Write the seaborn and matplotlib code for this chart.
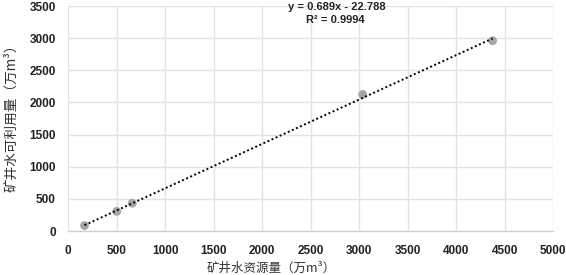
import matplotlib
matplotlib.use("Agg")
import matplotlib.pyplot as plt
import seaborn as sns
import pandas as pd

# Data
resource = [168, 500, 660, 3035, 4375]        # 矿井水资源量 (万m³)
usable = [85, 305, 432, 2125, 2960]            # 矿井水可利用量 (万m³)
x_ticks = [0, 500, 1000, 1500, 2000, 2500, 3000, 3500, 4000, 4500, 5000]
y_ticks = [0, 500, 1000, 1500, 2000, 2500, 3000, 3500]
eq_text = "y = 0.689x - 22.788"
r2_text = "R² = 0.9994"
x_label = "矿井水资源量（万m³）"
y_label = "矿井水可利用量（万m³）"

df = pd.DataFrame({"x": resource, "y": usable})

sns.set_theme(style="white")
plt.rcParams["font.family"] = ["Liberation Sans", "Noto Sans CJK SC", "DejaVu Sans"]

fig = plt.figure(figsize=(5.66, 2.75), dpi=100)
ax = fig.add_axes([0.1205, 0.16, 0.857, 0.818])

sns.regplot(data=df, x="x", y="y", ax=ax, ci=None, truncate=True,
            scatter_kws=dict(s=40, color="#a5a5a5", edgecolor="none", alpha=1, zorder=3),
            line_kws=dict(color="black", linestyle=(0, (1, 1.3)), linewidth=1.4, zorder=4))

ax.set_xlim(0, 5000)
ax.set_ylim(0, 3500)
ax.set_xticks(x_ticks)
ax.set_yticks(y_ticks)
ax.grid(True, color="#e3e3e3", linewidth=1)
ax.set_axisbelow(True)
for s in ["top", "right", "left"]:
    ax.spines[s].set_visible(False)
ax.spines["bottom"].set_color("#d0d0d0")
ax.spines["bottom"].set_linewidth(1)
ax.tick_params(axis="y", length=0, labelsize=8.5, pad=9, colors="black")
ax.tick_params(axis="x", length=0, labelsize=8.5, pad=10, colors="black")
for lab in ax.get_xticklabels() + ax.get_yticklabels():
    lab.set_fontweight("bold")
    lab.set_color("#222222")

ax.set_xlabel(x_label, fontsize=9, family=["Noto Sans CJK SC", "DejaVu Sans"],
              color="#333333")
ax.set_ylabel(y_label, fontsize=9.8, family=["Noto Sans CJK SC", "DejaVu Sans"],
              color="#333333")
# place labels as in reference
ax.xaxis.set_label_coords((271 - 68) / (553 - 68), -(268 - 231) / 225, transform=ax.transAxes)
ax.yaxis.set_label_coords(-(68 - 11) / 485, (231 - 115) / 225, transform=ax.transAxes)
ax.xaxis.label.set_va("center")
ax.yaxis.label.set_va("center")

fig.text(337 / 566, 1 - 7 / 275, eq_text, ha="center", va="center",
         fontsize=8, fontweight="bold", color="#222222")
fig.text(335 / 566, 1 - 20 / 275, r2_text, ha="center", va="center",
         fontsize=8, fontweight="bold", color="#222222")

fig.savefig("out.png", dpi=100)
